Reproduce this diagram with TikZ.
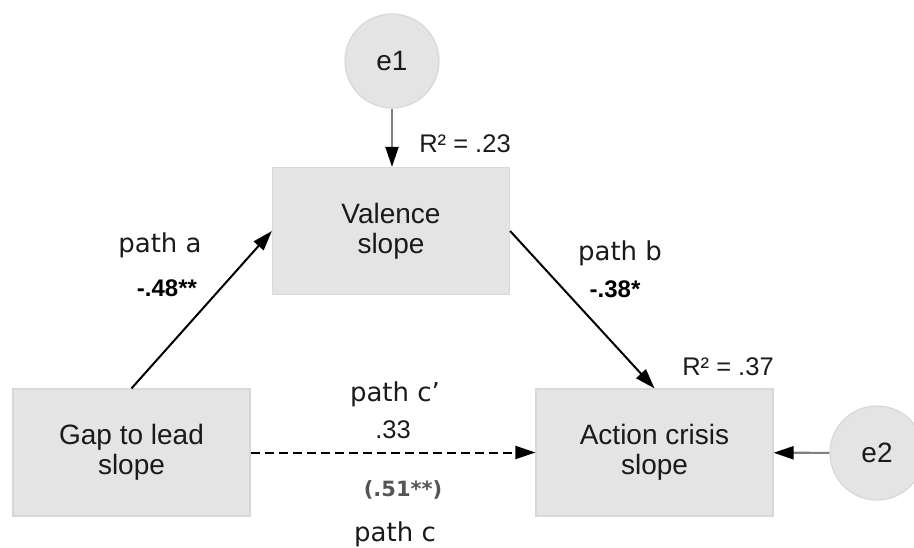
\documentclass[tikz,border=0pt]{standalone}
\usepackage{fontspec}
\setmainfont{Liberation Sans}
\newfontfamily\pathfont{DejaVu Sans}
\usetikzlibrary{arrows.meta}
\definecolor{boxfill}{HTML}{E4E4E4}
\definecolor{boxline}{HTML}{D8D8D8}
\definecolor{txt}{HTML}{1A1A1A}
\definecolor{errline}{HTML}{808080}
\definecolor{ciscol}{HTML}{555555}

\begin{document}
\begin{tikzpicture}[x=1pt,y=-1pt,
  var/.style={draw=boxline, line width=1.2pt, fill=boxfill,
    minimum width=237pt, minimum height=127pt, align=center, text=txt,
    font=\fontsize{28}{30}\selectfont, inner sep=0pt},
  err/.style={circle, draw=boxline, line width=1.2pt, fill=boxfill,
    minimum size=94pt, inner sep=0pt, text=txt,
    font=\fontsize{28}{30}\selectfont},
  headarrow/.style={-{Triangle[length=20pt,width=13pt,color=black]}},
  pathlink/.style={headarrow, draw=black, line width=2pt},
  errlink/.style={headarrow, draw=errline, line width=2.2pt},
  lab/.style={anchor=base, inner sep=0pt, text=txt,
    font=\pathfont\fontsize{26}{30}\selectfont},
  coef/.style={anchor=base, inner sep=0pt, text=black,
    font=\bfseries\fontsize{24}{26}\selectfont},
  rsq/.style={anchor=base, inner sep=0pt, text=txt,
    font=\fontsize{25.5}{28}\selectfont},
  total/.style={anchor=base, inner sep=0pt, text=ciscol,
    font=\pathfont\bfseries\fontsize{21}{24}\selectfont}
]
\clip (0,0) rectangle (914,548);

% variables
\node[var] (val) at (391,231) {Valence\\slope};
\node[var] (gap) at (131.5,452.5) {Gap to lead\\slope};
\node[var] (act) at (654.5,452.5) {Action crisis\\slope};

% residual terms
\node[err] (e1) at (392,61) {e1};
\node[err] (e2) at (877,453) {e2};

% paths
\draw[errlink] (e1.south) -- (e1.south |- val.north);
\draw[errlink] (e2) -- (act);
\draw[pathlink] (gap.north) -- (val.west);
\draw[pathlink] (val.east) -- (act.north);
\draw[pathlink, dash pattern=on 9pt off 5pt] (gap) -- (act);

% labels
\node[lab]  (la)  at (160,253) {path a};
\node[coef] (ca)  at (167,297) {-.48**};
\node[lab]  (lb)  at (620,261) {path b};
\node[coef] (cb)  at (615,298) {-.38*};
\node[rsq]  (r1)  at (465,153) {R² = .23};
\node[rsq]  (r2)  at (728,375) {R² = .37};
\node[lab]  (lcp) at (395,402) {path c’};
\node[rsq]  (ccp) at (393,438) {.33};
\node[total] (cc) at (403,496) {(.51**)};
\node[lab]  (lc)  at (395,541) {path c};
\end{tikzpicture}
\end{document}
